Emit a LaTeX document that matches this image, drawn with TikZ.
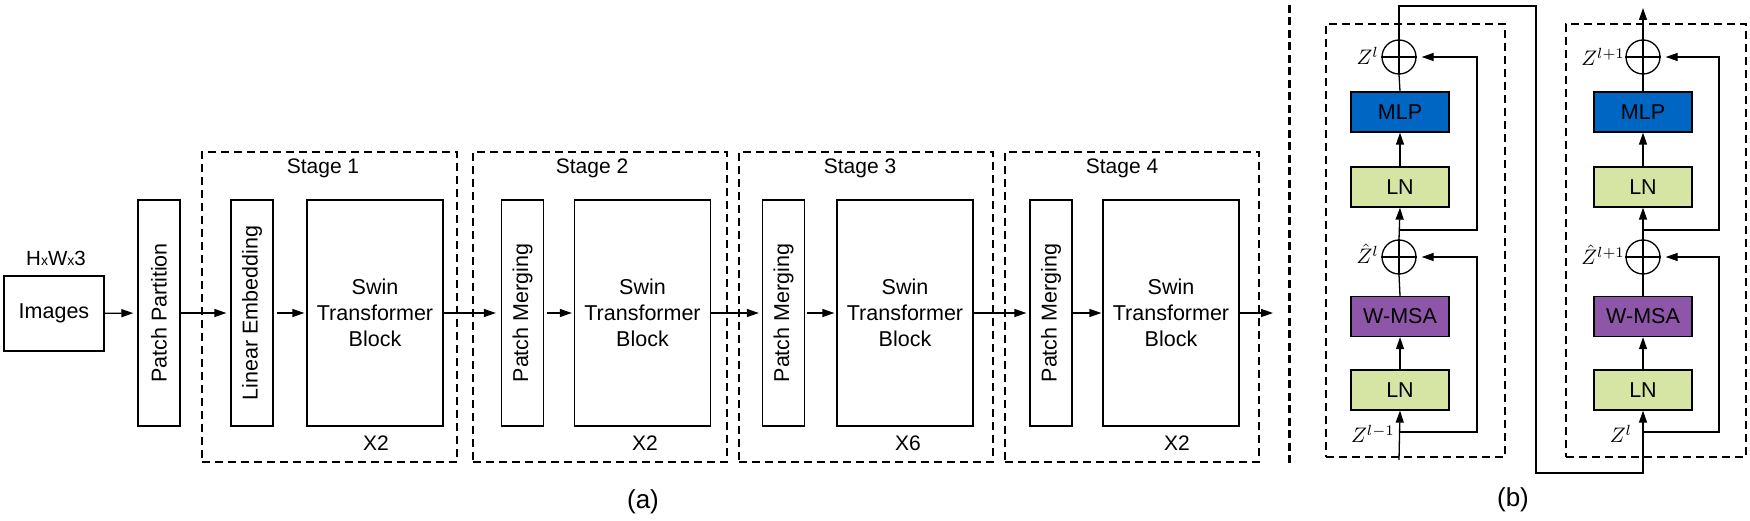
\documentclass[tikz,border=0pt]{standalone}
\usepackage{fontspec}
\setmainfont{Liberation Sans}
\usetikzlibrary{arrows.meta}
\definecolor{mlpblue}{RGB}{0,102,196}
\definecolor{lngreen}{RGB}{214,229,163}
\definecolor{msapurple}{RGB}{142,86,168}
\newcommand{\zmath}[1]{\scalebox{2.1}{$#1$}}
\begin{document}
\begin{tikzpicture}[x=1pt,y=-1pt,
  box/.style={draw, line width=1.3pt, inner sep=0pt, align=center, font=\fontsize{21.5}{26}\selectfont},
  tallbox/.style={box, minimum width=42pt, minimum height=226pt},
  swinbox/.style={box, minimum width=136pt, minimum height=226pt},
  stagebox/.style={draw, line width=2.6pt, dash pattern=on 8pt off 5pt, inner sep=0pt},
  lbl/.style={inner sep=0pt, font=\fontsize{21}{26}\selectfont},
  blk/.style={draw, line width=1.3pt, inner sep=0pt, minimum width=98pt, minimum height=40pt, font=\fontsize{21.5}{24}\selectfont},
  opl/.style={draw, circle, line width=1.3pt, minimum size=34pt, inner sep=0pt},
  zl/.style={inner sep=0pt},
  arr/.style={line width=1.3pt, -{Triangle[length=12pt,width=8pt]}},
  ln/.style={line width=1.3pt},
  captxt/.style={inner sep=0pt, font=\fontsize{26}{30}\selectfont}]
\useasboundingbox (0,0) rectangle (1750,521);

% ---------- (a) ----------
\node[box, minimum width=100pt, minimum height=75pt] (img) at (54,313.5) {Images};
\node[lbl, font=\fontsize{20.5}{24}\selectfont] (hw) at (56,258) {H{\fontsize{14}{16}\selectfont x}W{\fontsize{14}{16}\selectfont x}3};
\node[tallbox] (pp) at (159,313) {\rotatebox{90}{Patch Partition}};

\node[stagebox, minimum width=255pt, minimum height=310pt] (s1) at (329.5,307) {};
\node[stagebox, minimum width=254pt, minimum height=310pt] (s2) at (600,307) {};
\node[stagebox, minimum width=254pt, minimum height=310pt] (s3) at (866,307) {};
\node[stagebox, minimum width=254pt, minimum height=310pt] (s4) at (1132,307) {};

\node[lbl] (t1) at (323,168) {Stage 1};
\node[lbl] (t2) at (592,168) {Stage 2};
\node[lbl] (t3) at (860,168) {Stage 3};
\node[lbl] (t4) at (1122,168) {Stage 4};

\node[tallbox] (le) at (252,313) {\rotatebox{90}{Linear Embedding}};
\node[swinbox] (sw1) at (375,313) {Swin\\Transformer\\Block};
\node[tallbox] (pm2) at (522.5,313) {\rotatebox{90}{Patch Merging}};
\node[swinbox] (sw2) at (642.5,313) {Swin\\Transformer\\Block};
\node[tallbox] (pm3) at (783.5,313) {\rotatebox{90}{Patch Merging}};
\node[swinbox] (sw3) at (905,313) {Swin\\Transformer\\Block};
\node[tallbox] (pm4) at (1051,313) {\rotatebox{90}{Patch Merging}};
\node[swinbox] (sw4) at (1171,313) {Swin\\Transformer\\Block};

\node[lbl] (x1) at (376,443) {X2};
\node[lbl] (x2) at (645,443) {X2};
\node[lbl] (x3) at (908,443) {X6};
\node[lbl] (x4) at (1177,443) {X2};

\coordinate (out) at (1273,313);
\draw[arr, shorten >=4pt] (img) -- (pp);
\draw[arr, shorten >=4pt] (pp) -- (le);
\draw[arr, shorten >=2pt, shorten <=3pt] (le) -- (sw1);
\draw[arr, shorten >=5pt] (sw1) -- (pm2);
\draw[arr, shorten >=2pt, shorten <=3pt] (pm2) -- (sw2);
\draw[arr, shorten >=3pt] (sw2) -- (pm3);
\draw[arr, shorten >=2pt, shorten <=2pt] (pm3) -- (sw3);
\draw[arr, shorten >=3pt] (sw3) -- (pm4);
\draw[arr, shorten >=1pt] (pm4) -- (sw4);
\draw[arr] (sw4) -- (out);

\node[captxt] (ca) at (643,502) {(a)};

% separator
\coordinate (sepT) at (1289,5);
\coordinate (sepB) at (1289,463);
\draw[line width=3pt, dash pattern=on 8pt off 4.5pt] (sepT) -- (sepB);

% ---------- (b) ----------
\node[stagebox, minimum width=179pt, minimum height=433pt] (bA) at (1415.5,240.5) {};
\node[stagebox, minimum width=180pt, minimum height=433pt] (bB) at (1656,240.5) {};

% left block
\node[opl] (oA2) at (1399,57) {};
\node[blk, fill=mlpblue] (mlpA) at (1400,112) {MLP};
\node[blk, fill=lngreen] (lnA2) at (1400,187) {LN};
\node[opl] (oA1) at (1399,257) {};
\node[blk, fill=msapurple] (msaA) at (1400,316.5) {W-MSA};
\node[blk, fill=lngreen] (lnA1) at (1400,390) {LN};
\draw[ln] (oA2.north) -- (oA2.south) (oA2.west) -- (oA2.east);
\draw[ln] (oA1.north) -- (oA1.south) (oA1.west) -- (oA1.east);

\node[zl, anchor=east] (zA2) at (1379,56) {\zmath{Z^{l}}};
\node[zl, anchor=east] (zA1) at (1379,254) {\zmath{\hat{Z}^{l}}};
\node[zl] (zA0) at (1373,434) {\zmath{Z^{l-1}}};

\coordinate (inA) at (1399,460);
\coordinate (skA1) at (1477,432);
\coordinate (skA2) at (1477,230);
\draw[arr] (inA) -- (lnA1.south);
\draw[arr] (lnA1.north) -- (msaA.south);
\draw[ln] (msaA.north) -- (oA1.south);
\draw[arr] (oA1.north) -- (lnA2.south);
\draw[arr] (lnA2.north) -- (mlpA.south);
\draw[ln] (mlpA.north) -- (oA2.south);
\draw[arr, shorten >=5pt] (inA |- skA1) -- (skA1) |- (oA1.east);
\draw[arr, shorten >=5pt] (inA |- skA2) -- (skA2) |- (oA2.east);

% right block
\node[opl] (oB2) at (1643,57) {};
\node[blk, fill=mlpblue] (mlpB) at (1643,112) {MLP};
\node[blk, fill=lngreen] (lnB2) at (1643,187) {LN};
\node[opl] (oB1) at (1643,257) {};
\node[blk, fill=msapurple] (msaB) at (1643,316.5) {W-MSA};
\node[blk, fill=lngreen] (lnB1) at (1643,390) {LN};
\draw[ln] (oB2.north) -- (oB2.south) (oB2.west) -- (oB2.east);
\draw[ln] (oB1.north) -- (oB1.south) (oB1.west) -- (oB1.east);

\node[zl, anchor=east] (zB2) at (1625,57) {\zmath{Z^{l+1}}};
\node[zl, anchor=east] (zB1) at (1625,255) {\zmath{\hat{Z}^{l+1}}};
\node[zl] (zB0) at (1621,434) {\zmath{Z^{l}}};

\coordinate (skB1) at (1719,432);
\coordinate (skB2) at (1719,230);
\coordinate (outB) at (1643,8);
\draw[arr] (lnB1.north) -- (msaB.south);
\draw[ln] (msaB.north) -- (oB1.south);
\draw[arr] (oB1.north) -- (lnB2.south);
\draw[arr] (lnB2.north) -- (mlpB.south);
\draw[ln] (mlpB.north) -- (oB2.south);
\draw[arr] (oB2.north) -- (outB);
\draw[arr, shorten >=5pt] (lnB1.south |- skB1) -- (skB1) |- (oB1.east);
\draw[arr, shorten >=5pt] (lnB1.south |- skB2) -- (skB2) |- (oB2.east);

% link between the blocks
\coordinate (lk1) at (1536,6);
\coordinate (lk2) at (1536,473);
\draw[arr] (oA2.north) |- (lk1) -- (lk2) -| (lnB1.south);

\node[captxt] (cb) at (1513,500) {(b)};
\end{tikzpicture}
\end{document}
